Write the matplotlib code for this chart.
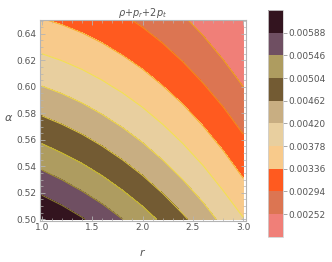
import numpy as np
import matplotlib
matplotlib.use("Agg")
import matplotlib.pyplot as plt
from matplotlib.ticker import MultipleLocator, FixedLocator

# grid of estimated values (units of 1e-3)
r_vals = [1.0, 1.2, 1.4, 1.6, 1.8, 2.0, 2.2, 2.4, 2.6, 2.8, 3.0]
alpha_vals = [0.500, 0.525, 0.550, 0.575, 0.600, 0.625, 0.650]
z_rows = [
    [6.300, 6.113, 5.912, 5.696, 5.465, 5.221, 4.961, 4.688, 4.400, 4.097, 3.800],
    [5.723, 5.560, 5.381, 5.189, 4.982, 4.761, 4.525, 4.275, 4.010, 3.731, 3.437],
    [5.183, 5.041, 4.884, 4.714, 4.528, 4.329, 4.114, 3.885, 3.643, 3.385, 3.113],
    [4.679, 4.557, 4.420, 4.269, 4.104, 3.924, 3.730, 3.521, 3.297, 3.060, 2.808],
    [4.211, 4.107, 3.989, 3.856, 3.709, 3.546, 3.371, 3.180, 2.974, 2.755, 2.521],
    [3.780, 3.692, 3.590, 3.473, 3.343, 3.197, 3.037, 2.863, 2.674, 2.470, 2.253],
    [3.385, 3.312, 3.224, 3.122, 3.006, 2.875, 2.730, 2.570, 2.395, 2.207, 2.003],
]
levels = [0.00190, 0.00252, 0.00294, 0.00336, 0.00378, 0.00420, 0.00462,
          0.00504, 0.00546, 0.00588, 0.00640]
tick_levels = [0.00252, 0.00294, 0.00336, 0.00378, 0.00420, 0.00462,
               0.00504, 0.00546, 0.00588]
fill_colors = ["#f07f78", "#dc7552", "#ff5a1f", "#f8ca8b", "#e8cf9f",
               "#c8ae82", "#735b33", "#ae9c60", "#6f4f62", "#33141f"]
line_colors = ["#f0a020", "#f08a20", "#f8b030", "#f5e050", "#f0d848",
               "#d8c040", "#c8b828", "#a09030", "#857530"]
title_text = r"$\rho$+$p_r$+2$p_t$"

R, A = np.meshgrid(r_vals, alpha_vals)
Z = np.array(z_rows) * 1e-3

fig = plt.figure(figsize=(3.32, 2.62), dpi=100)
ax = fig.add_axes([0.119, 0.158, 0.622, 0.766])
cf = ax.contourf(R, A, Z, levels=levels, colors=fill_colors)
ax.contour(R, A, Z, levels=tick_levels, colors=line_colors, linewidths=0.8)
ax.set_xlim(0.977, 3.027)
ax.set_ylim(0.499, 0.6505)

gray = "#555555"
fgray = "#b4b4b4"
for s in ax.spines.values():
    s.set_color(fgray)
    s.set_linewidth(0.8)
ax.xaxis.set_major_locator(FixedLocator([1.0, 1.5, 2.0, 2.5, 3.0]))
ax.xaxis.set_minor_locator(MultipleLocator(0.1))
ax.yaxis.set_major_locator(FixedLocator([0.50, 0.52, 0.54, 0.56, 0.58, 0.60, 0.62, 0.64]))
ax.yaxis.set_minor_locator(MultipleLocator(0.005))
ax.tick_params(which="both", direction="in", top=True, right=True, color=fgray,
               labelcolor=gray, labelsize=6.5, pad=2)
ax.tick_params(which="major", length=3.5, width=0.6)
ax.tick_params(which="minor", length=2, width=0.5)
ax.set_xticklabels(["1.0", "1.5", "2.0", "2.5", "3.0"])
ax.set_yticklabels(["0.50", "0.52", "0.54", "0.56", "0.58", "0.60", "0.62", "0.64"])
ax.set_title(title_text, fontsize=7, color=gray, pad=2)

fig.text(142 / 332, 1 - 253 / 262, "r", fontsize=8, style="italic", color=gray,
         ha="center", va="center")
fig.text(9 / 332, 1 - 118 / 262, r"$\alpha$", fontsize=8, color=gray,
         ha="center", va="center")

cax = fig.add_axes([0.807, 0.0966, 0.044, 0.865])
cb = fig.colorbar(cf, cax=cax, ticks=tick_levels, spacing="uniform")
cb.ax.set_yticklabels(["%.5f" % v for v in tick_levels])
cb.ax.tick_params(labelsize=6.5, labelcolor=gray, color="#999999", length=3, width=0.6, pad=1)
cb.outline.set_edgecolor("#d0d0d0")
cb.outline.set_linewidth(0.6)

fig.savefig("out.png", dpi=100)
